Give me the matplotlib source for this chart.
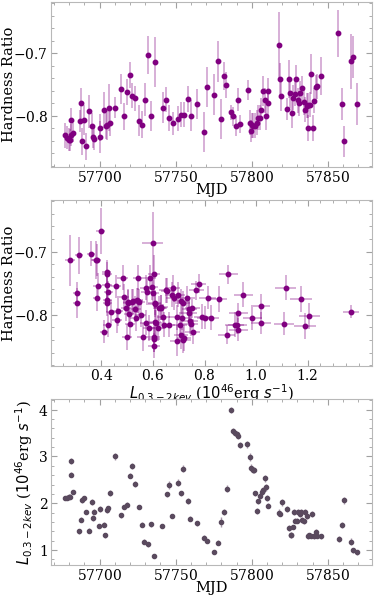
import matplotlib
matplotlib.use("Agg")
from matplotlib import pyplot as plt
from matplotlib.ticker import AutoMinorLocator

# hardness ratio light curve
mjd_hr = [57677.5, 57678.6, 57679.7, 57680.3, 57681.4, 57681.2, 57682.5, 57686.9, 57688.0, 57688.6,
          57689.9, 57691.0, 57693.2, 57695.0, 57695.4, 57696.5, 57700.2, 57700.4, 57703.1, 57704.2,
          57705.2, 57706.1, 57707.0, 57710.3, 57714.2, 57716.0, 57718.1, 57720.1, 57721.4, 57723.6,
          57725.6, 57728.0, 57729.9, 57731.9, 57733.9, 57736.1, 57741.5, 57743.9, 57745.7, 57748.3,
          57751.8, 57753.6, 57755.3, 57757.9, 57759.9, 57763.8, 57768.6, 57770.6, 57775.2, 57777.6,
          57780.0, 57781.7, 57783.3, 57786.3, 57787.4, 57789.4, 57791.1, 57792.2, 57797.5, 57799.0,
          57799.5, 57800.3, 57801.0, 57802.1, 57803.2, 57804.3, 57805.1, 57806.2, 57807.1, 57808.4,
          57809.1, 57810.4, 57811.0, 57817.8, 57818.7, 57819.3, 57823.1, 57824.4, 57825.0, 57826.3,
          57827.2, 57828.1, 57829.0, 57830.1, 57831.1, 57832.0, 57833.1, 57834.0, 57835.1, 57836.0,
          57836.8, 57837.0, 57838.1, 57839.0, 57840.1, 57841.0, 57842.1, 57843.0, 57845.4, 57856.9,
          57859.1, 57860.9, 57865.5, 57866.8, 57869.4]
hr = [-0.831, -0.835, -0.838, -0.839, -0.831, -0.806, -0.827, -0.808, -0.780, -0.841,
      -0.806, -0.849, -0.793, -0.816, -0.834, -0.837, -0.834, -0.819, -0.791, -0.816,
      -0.814, -0.787, -0.811, -0.787, -0.757, -0.801, -0.762, -0.735, -0.768, -0.772,
      -0.808, -0.814, -0.774, -0.703, -0.800, -0.714, -0.787, -0.774, -0.804, -0.812,
      -0.805, -0.798, -0.798, -0.773, -0.800, -0.781, -0.826, -0.754, -0.766, -0.713,
      -0.805, -0.736, -0.751, -0.794, -0.801, -0.817, -0.774, -0.813, -0.758, -0.811,
      -0.824, -0.815, -0.816, -0.816, -0.811, -0.803, -0.803, -0.790, -0.761, -0.775,
      -0.801, -0.779, -0.760, -0.687, -0.741, -0.768, -0.789, -0.741, -0.764, -0.796,
      -0.771, -0.765, -0.741, -0.775, -0.780, -0.764, -0.756, -0.778, -0.790, -0.784,
      -0.820, -0.783, -0.782, -0.733, -0.820, -0.776, -0.754, -0.753, -0.736, -0.668,
      -0.781, -0.841, -0.713, -0.706, -0.781]
hr_err = [0.020, 0.018, 0.018, 0.018, 0.018, 0.018, 0.015, 0.018, 0.025, 0.021,
          0.024, 0.021, 0.026, 0.020, 0.018, 0.018, 0.025, 0.022, 0.029, 0.021,
          0.024, 0.038, 0.021, 0.017, 0.024, 0.021, 0.021, 0.021, 0.020, 0.020,
          0.025, 0.021, 0.026, 0.030, 0.024, 0.040, 0.025, 0.020, 0.021, 0.018,
          0.020, 0.020, 0.020, 0.021, 0.025, 0.024, 0.032, 0.032, 0.033, 0.033,
          0.032, 0.022, 0.021, 0.012, 0.015, 0.016, 0.018, 0.015, 0.016, 0.020,
          0.018, 0.020, 0.020, 0.020, 0.020, 0.020, 0.020, 0.018, 0.024, 0.020,
          0.022, 0.020, 0.021, 0.053, 0.026, 0.025, 0.017, 0.030, 0.024, 0.024,
          0.020, 0.020, 0.022, 0.020, 0.020, 0.020, 0.020, 0.020, 0.020, 0.020,
          0.021, 0.020, 0.020, 0.032, 0.021, 0.020, 0.020, 0.020, 0.030, 0.038,
          0.025, 0.025, 0.044, 0.034, 0.033]

# hardness ratio against luminosity
lum_mid = [0.278, 0.304, 0.306, 0.314, 0.359, 0.377, 0.381, 0.385, 0.381, 0.397,
           0.410, 0.420, 0.421, 0.421, 0.423, 0.423, 0.424, 0.427, 0.437, 0.456,
           0.461, 0.465, 0.482, 0.487, 0.494, 0.498, 0.502, 0.503, 0.508, 0.511,
           0.520, 0.524, 0.530, 0.533, 0.539, 0.540, 0.543, 0.546, 0.552, 0.560,
           0.572, 0.574, 0.578, 0.584, 0.588, 0.595, 0.599, 0.601, 0.603, 0.604,
           0.604, 0.605, 0.606, 0.606, 0.609, 0.612, 0.621, 0.625, 0.630, 0.631,
           0.640, 0.641, 0.649, 0.656, 0.661, 0.675, 0.676, 0.680, 0.692, 0.693,
           0.698, 0.705, 0.707, 0.709, 0.714, 0.715, 0.718, 0.720, 0.733, 0.740,
           0.741, 0.744, 0.746, 0.753, 0.754, 0.768, 0.777, 0.792, 0.803, 0.812,
           0.825, 0.855, 0.886, 0.893, 0.917, 0.928, 0.931, 0.931, 0.951, 0.986,
           1.018, 1.019, 1.109, 1.115, 1.175, 1.190, 1.207, 1.368]
lum_mid_err = [0.018, 0.015, 0.015, 0.015, 0.015, 0.018, 0.018, 0.018, 0.015, 0.018,
               0.015, 0.018, 0.018, 0.018, 0.018, 0.018, 0.018, 0.018, 0.020, 0.018,
               0.020, 0.020, 0.020, 0.020, 0.020, 0.020, 0.020, 0.020, 0.020, 0.020,
               0.022, 0.022, 0.022, 0.022, 0.022, 0.022, 0.022, 0.022, 0.022, 0.022,
               0.024, 0.024, 0.024, 0.024, 0.024, 0.024, 0.040, 0.024, 0.024, 0.024,
               0.024, 0.024, 0.024, 0.024, 0.024, 0.024, 0.026, 0.026, 0.026, 0.026,
               0.026, 0.026, 0.026, 0.026, 0.026, 0.028, 0.028, 0.028, 0.028, 0.028,
               0.028, 0.028, 0.028, 0.028, 0.028, 0.028, 0.028, 0.028, 0.030, 0.030,
               0.030, 0.030, 0.030, 0.030, 0.030, 0.030, 0.030, 0.032, 0.032, 0.032,
               0.032, 0.034, 0.034, 0.036, 0.036, 0.036, 0.036, 0.036, 0.036, 0.038,
               0.038, 0.038, 0.040, 0.040, 0.042, 0.042, 0.042, 0.030]
hr_mid = [-0.714, -0.766, -0.781, -0.706, -0.703, -0.713, -0.713, -0.754, -0.774, -0.667,
          -0.827, -0.733, -0.736, -0.753, -0.776, -0.782, -0.816, -0.764, -0.796, -0.755,
          -0.809, -0.794, -0.741, -0.772, -0.790, -0.835, -0.780, -0.781, -0.799, -0.815,
          -0.780, -0.779, -0.791, -0.806, -0.777, -0.778, -0.741, -0.780, -0.800, -0.835,
          -0.813, -0.757, -0.764, -0.821, -0.741, -0.756, -0.687, -0.765, -0.835, -0.849,
          -0.839, -0.736, -0.783, -0.781, -0.812, -0.813, -0.821, -0.790, -0.789, -0.788,
          -0.803, -0.816, -0.761, -0.762, -0.816, -0.768, -0.757, -0.773, -0.804, -0.841,
          -0.768, -0.816, -0.779, -0.832, -0.805, -0.782, -0.840, -0.837, -0.774, -0.798,
          -0.791, -0.810, -0.814, -0.790, -0.827, -0.761, -0.751, -0.803, -0.805, -0.773,
          -0.805, -0.775, -0.832, -0.736, -0.816, -0.816, -0.797, -0.824, -0.768, -0.806,
          -0.787, -0.813, -0.814, -0.757, -0.775, -0.818, -0.802, -0.795]
hr_mid_err = [0.040, 0.018, 0.024, 0.030, 0.020, 0.030, 0.025, 0.020, 0.020, 0.037,
              0.018, 0.020, 0.020, 0.020, 0.020, 0.020, 0.020, 0.018, 0.020, 0.018,
              0.020, 0.024, 0.020, 0.020, 0.020, 0.021, 0.020, 0.020, 0.020, 0.022,
              0.020, 0.020, 0.020, 0.020, 0.020, 0.020, 0.020, 0.020, 0.020, 0.022,
              0.020, 0.020, 0.020, 0.020, 0.020, 0.020, 0.050, 0.020, 0.024, 0.020,
              0.020, 0.030, 0.020, 0.020, 0.020, 0.020, 0.020, 0.020, 0.020, 0.020,
              0.020, 0.020, 0.020, 0.020, 0.020, 0.020, 0.020, 0.020, 0.020, 0.025,
              0.020, 0.020, 0.020, 0.022, 0.020, 0.020, 0.020, 0.020, 0.020, 0.020,
              0.020, 0.020, 0.020, 0.015, 0.020, 0.015, 0.015, 0.020, 0.018, 0.018,
              0.020, 0.020, 0.015, 0.015, 0.020, 0.015, 0.015, 0.018, 0.020, 0.018,
              0.020, 0.018, 0.018, 0.020, 0.020, 0.020, 0.020, 0.010]
mid_ticks = [0.4, 0.6, 0.8, 1.0, 1.2]

# luminosity light curve
mjd_lum = [57677.5, 57678.6, 57679.7, 57680.8, 57681.0, 57681.4, 57682.5, 57686.7, 57687.8, 57688.6,
           57689.5, 57690.8, 57692.8, 57694.8, 57695.4, 57696.5, 57700.0, 57699.8, 57702.8, 57703.9,
           57704.8, 57705.7, 57706.8, 57710.3, 57714.0, 57716.0, 57717.9, 57719.9, 57721.2, 57723.2,
           57725.6, 57727.8, 57729.5, 57731.9, 57733.7, 57735.8, 57741.3, 57744.2, 57745.9, 57747.9,
           57751.6, 57753.3, 57754.9, 57757.9, 57759.7, 57763.8, 57768.9, 57770.8, 57775.2, 57777.6,
           57779.8, 57781.5, 57783.5, 57786.1, 57787.4, 57789.0, 57790.3, 57791.1, 57792.2, 57797.0,
           57798.8, 57799.5, 57800.5, 57801.4, 57802.3, 57803.2, 57804.3, 57805.6, 57806.7, 57807.5,
           57808.4, 57809.1, 57809.9, 57811.0, 57817.6, 57818.5, 57819.6, 57823.1, 57824.8, 57825.5,
           57826.1, 57827.0, 57827.9, 57828.5, 57829.6, 57830.5, 57831.8, 57832.5, 57833.3, 57834.4,
           57835.3, 57836.2, 57837.0, 57837.9, 57839.0, 57839.9, 57841.0, 57841.9, 57842.9, 57845.4,
           57857.2, 57859.1, 57860.9, 57865.0, 57866.8, 57869.4]
lum = [2.11, 2.12, 2.14, 2.14, 2.90, 2.61, 2.24, 1.40, 1.65, 2.07,
       2.11, 1.81, 1.41, 2.02, 1.69, 1.82, 1.87, 1.51, 1.54, 1.31,
       1.85, 1.89, 2.22, 3.00, 1.74, 1.92, 1.97, 2.59, 2.80, 2.41,
       1.92, 1.54, 1.18, 1.12, 1.55, 0.88, 1.51, 2.19, 2.39, 1.73,
       2.44, 2.21, 2.74, 2.05, 1.67, 1.57, 1.26, 1.19, 0.95, 1.16,
       1.60, 1.81, 2.31, 3.99, 3.54, 3.50, 3.47, 3.44, 3.24, 3.26,
       2.99, 2.76, 2.71, 2.71, 2.21, 1.83, 2.04, 2.16, 2.24, 2.28,
       2.53, 2.34, 2.11, 1.95, 1.80, 1.78, 2.02, 1.87, 1.47, 1.31,
       1.33, 1.49, 1.81, 1.63, 1.63, 1.82, 1.76, 1.81, 1.64, 1.61,
       1.81, 1.72, 1.29, 1.31, 1.30, 1.77, 1.29, 1.38, 1.30, 1.29,
       1.23, 1.53, 2.06, 1.18, 0.99, 0.95]
lum_err = [0.05, 0.05, 0.05, 0.05, 0.07, 0.06, 0.05, 0.05, 0.05, 0.06,
           0.05, 0.05, 0.05, 0.06, 0.06, 0.05, 0.06, 0.05, 0.05, 0.05,
           0.06, 0.05, 0.06, 0.07, 0.05, 0.05, 0.05, 0.06, 0.07, 0.06,
           0.05, 0.05, 0.05, 0.05, 0.05, 0.04, 0.05, 0.06, 0.08, 0.05,
           0.07, 0.06, 0.07, 0.06, 0.06, 0.05, 0.05, 0.05, 0.04, 0.05,
           0.10, 0.06, 0.07, 0.07, 0.06, 0.06, 0.06, 0.06, 0.07, 0.07,
           0.08, 0.07, 0.06, 0.06, 0.06, 0.06, 0.06, 0.06, 0.06, 0.06,
           0.08, 0.07, 0.06, 0.06, 0.08, 0.06, 0.08, 0.06, 0.06, 0.05,
           0.05, 0.05, 0.06, 0.06, 0.06, 0.06, 0.06, 0.06, 0.06, 0.06,
           0.06, 0.06, 0.05, 0.05, 0.05, 0.06, 0.05, 0.06, 0.05, 0.05,
           0.06, 0.06, 0.08, 0.07, 0.05, 0.05]

plt.rcParams['font.family'] = 'DejaVu Serif'
plt.rcParams['font.size'] = 10.5
plt.rcParams['axes.formatter.use_mathtext'] = True

fig = plt.figure(figsize=(3.74, 5.96), dpi=100)
ax1 = fig.add_axes([0.1356, 0.7198, 0.859, 0.2768])
ax2 = fig.add_axes([0.1356, 0.3864, 0.859, 0.2780])
ax3 = fig.add_axes([0.1356, 0.0520, 0.859, 0.2780])


def style(ax):
    for s in ax.spines.values():
        s.set_color('#b8b8b8')
    ax.xaxis.set_minor_locator(AutoMinorLocator())
    ax.yaxis.set_minor_locator(AutoMinorLocator())
    ax.tick_params(which='both', direction='in', top=True, right=True,
                   color='#a0a0a0', labelsize=10, pad=2)
    ax.tick_params(which='major', length=4, width=0.8)
    ax.tick_params(which='minor', length=2, width=0.6)


eb = ax1.errorbar(mjd_hr, hr, yerr=hr_err, fmt='o', color='purple', ms=3.2,
                  ecolor='purple', elinewidth=1.1)
eb[2][0].set_alpha(0.4)
ax1.set_xlabel('MJD', labelpad=-1)
ax1.set_ylabel('Hardness Ratio')
ax1.yaxis.set_label_coords(-0.108, 0.5)
ax1.set_yticks([-0.8, -0.7])
style(ax1)

eb = ax2.errorbar(lum_mid, hr_mid, xerr=lum_mid_err, yerr=hr_mid_err, fmt='o', color='purple',
                  ms=3.2, ecolor='purple', elinewidth=1.1)
for c in eb[2]:
    c.set_alpha(0.4)
ax2.set_xlim(0.203, 1.45)
ax2.set_xticks(mid_ticks)
ax2.set_xlabel(r'$L_{0.3-2kev}$ ($10^{46}$erg $s^{-1}$)', labelpad=-1)
ax2.set_ylabel('Hardness Ratio')
ax2.yaxis.set_label_coords(-0.108, 0.5)
ax2.set_yticks([-0.8, -0.7])
style(ax2)

eb = ax3.errorbar(mjd_lum, lum, yerr=lum_err, fmt='o', color='#5a4a5e', ms=3,
                  ecolor='#a898aa', elinewidth=1.0)
ax3.set_xlabel('MJD', labelpad=-1)
ax3.set_ylabel(r'$L_{0.3-2kev}$ ($10^{46}$erg $s^{-1}$)')
ax3.yaxis.set_label_coords(-0.05, 0.5)
style(ax3)

fig.savefig('out.png', dpi=100)
